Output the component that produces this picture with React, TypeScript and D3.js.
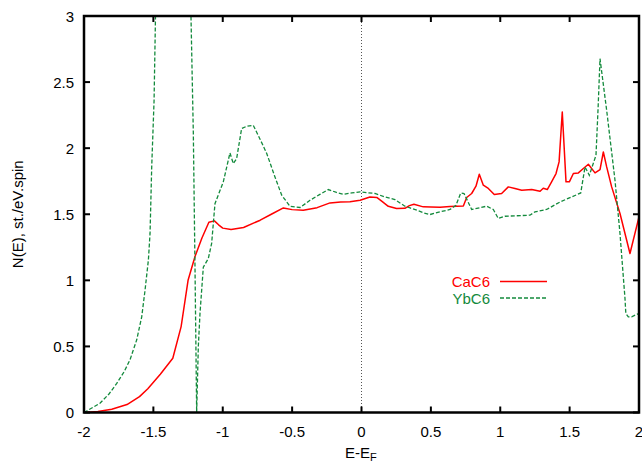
import React from "react";
import * as d3 from "d3";

const energyCa = [-2.0, -1.9, -1.8, -1.69, -1.6, -1.54, -1.45, -1.36, -1.3, -1.25, -1.2, -1.15, -1.1, -1.06, -1.03, -1.0, -0.94, -0.85, -0.73, -0.65, -0.563, -0.5, -0.42, -0.32, -0.227, -0.15, -0.083, -0.01, 0.061, 0.11, 0.15, 0.193, 0.253, 0.313, 0.345, 0.378, 0.445, 0.5, 0.566, 0.638, 0.734, 0.758, 0.794, 0.825, 0.849, 0.878, 0.914, 0.957, 1.01, 1.058, 1.106, 1.155, 1.227, 1.287, 1.31, 1.339, 1.37, 1.402, 1.424, 1.447, 1.474, 1.498, 1.527, 1.563, 1.599, 1.635, 1.683, 1.719, 1.743, 1.767, 1.803, 1.863, 1.935, 2.0];
const dosCa = [0.0, 0.008, 0.025, 0.06, 0.12, 0.18, 0.29, 0.41, 0.65, 1.0, 1.18, 1.32, 1.44, 1.45, 1.42, 1.395, 1.385, 1.4, 1.455, 1.5, 1.548, 1.535, 1.53, 1.55, 1.586, 1.593, 1.595, 1.606, 1.631, 1.627, 1.595, 1.56, 1.543, 1.545, 1.565, 1.576, 1.556, 1.555, 1.553, 1.558, 1.563, 1.627, 1.657, 1.712, 1.803, 1.72, 1.695, 1.649, 1.657, 1.707, 1.695, 1.682, 1.687, 1.674, 1.697, 1.687, 1.745, 1.808, 1.896, 2.274, 1.745, 1.745, 1.808, 1.813, 1.846, 1.878, 1.813, 1.838, 1.971, 1.858, 1.707, 1.506, 1.203, 1.48];

const energyYb = [-2.0, -1.95, -1.885, -1.82, -1.764, -1.71, -1.668, -1.62, -1.584, -1.56, -1.536, -1.524, -1.512, -1.495, -1.475, -1.35, -1.235, -1.229, -1.212, -1.2, -1.188, -1.176, -1.164, -1.14, -1.104, -1.08, -1.056, -0.996, -0.948, -0.924, -0.9, -0.864, -0.827, -0.78, -0.732, -0.683, -0.623, -0.575, -0.515, -0.443, -0.371, -0.3, -0.24, -0.18, -0.131, -0.07, -0.01, 0.097, 0.17, 0.241, 0.313, 0.35, 0.398, 0.45, 0.494, 0.566, 0.638, 0.681, 0.715, 0.739, 0.794, 0.902, 0.95, 0.986, 1.034, 1.214, 1.25, 1.334, 1.431, 1.58, 1.611, 1.642, 1.69, 1.705, 1.719, 1.767, 1.827, 1.863, 1.899, 1.905, 1.923, 1.947, 2.0];
const dosYb = [0.0, 0.03, 0.07, 0.14, 0.22, 0.31, 0.4, 0.55, 0.724, 0.926, 1.153, 1.355, 1.858, 2.36, 3.6, 5.5, 3.6, 3.0, 2.11, 1.1, 0.0, 0.5, 0.75, 1.1, 1.165, 1.28, 1.58, 1.745, 1.964, 1.883, 1.921, 2.148, 2.166, 2.173, 2.07, 1.96, 1.78, 1.644, 1.56, 1.551, 1.606, 1.65, 1.687, 1.665, 1.651, 1.662, 1.669, 1.657, 1.631, 1.611, 1.561, 1.548, 1.531, 1.51, 1.498, 1.518, 1.536, 1.568, 1.661, 1.657, 1.536, 1.561, 1.536, 1.468, 1.485, 1.493, 1.518, 1.536, 1.593, 1.661, 1.858, 1.795, 1.946, 2.3, 2.677, 2.286, 1.757, 1.354, 0.863, 0.75, 0.724, 0.724, 0.75];

const xTicks = [-2, -1.5, -1, -0.5, 0, 0.5, 1, 1.5, 2];
const yTicks = [0, 0.5, 1, 1.5, 2, 2.5, 3];
const seriesNames = ["CaC6", "YbC6"];

const W = 642;
const H = 462;
const left = 84;
const right = 639;
const top = 16;
const bottom = 412.5;
const RED = "#ff0000";
const GREEN = "#138a3c";
const FONT = "'Liberation Sans', Arial, Helvetica, sans-serif";

export default function App() {
  const x = d3.scaleLinear().domain([-2, 2]).range([left, right]);
  const y = d3.scaleLinear().domain([0, 3]).range([bottom, top]);
  const line = d3
    .line<[number, number]>()
    .x((d) => x(d[0]))
    .y((d) => y(d[1]));
  const caPts = energyCa.map((e, i) => [e, dosCa[i]] as [number, number]);
  const ybPts = energyYb.map((e, i) => [e, dosYb[i]] as [number, number]);
  const tickLen = 6;

  return (
    <svg
      width={W}
      height={H}
      style={{ position: "absolute", left: 0, top: 0, background: "#fff" }}
      fontFamily={FONT}
    >
      <defs>
        <clipPath id="plotclip">
          <rect x={left} y={top} width={right - left} height={bottom - top} />
        </clipPath>
      </defs>
      <rect width={W} height={H} fill="#fff" />
      {/* zero line */}
      <line
        x1={x(0)}
        x2={x(0)}
        y1={top}
        y2={bottom}
        stroke="#555"
        strokeWidth={1}
        strokeDasharray="1,2"
      />
      <g clipPath="url(#plotclip)">
        <path d={line(caPts) || ""} fill="none" stroke={RED} strokeWidth={1.5} strokeLinejoin="round" />
        <path
          d={line(ybPts) || ""}
          fill="none"
          stroke={GREEN}
          strokeWidth={1.3}
          strokeDasharray="4,2"
        />
      </g>
      {/* ticks */}
      {xTicks.map((t) => (
        <g key={"xt" + t}>
          <line x1={x(t)} x2={x(t)} y1={bottom} y2={bottom - tickLen} stroke="#000" strokeWidth={2} />
          <line x1={x(t)} x2={x(t)} y1={top} y2={top + tickLen} stroke="#000" strokeWidth={2} />
          <text x={x(t)} y={437} textAnchor="middle" fontSize={15} fill="#000">
            {String(t)}
          </text>
        </g>
      ))}
      {yTicks.map((t) => (
        <g key={"yt" + t}>
          <line x1={left} x2={left + tickLen} y1={y(t)} y2={y(t)} stroke="#000" strokeWidth={2} />
          <line x1={right} x2={right - tickLen} y1={y(t)} y2={y(t)} stroke="#000" strokeWidth={2} />
          <text x={74} y={y(t) + 5.5} textAnchor="end" fontSize={15} fill="#000">
            {String(t)}
          </text>
        </g>
      ))}
      {/* frame */}
      <rect
        x={left}
        y={top}
        width={right - left}
        height={bottom - top}
        fill="none"
        stroke="#000"
        strokeWidth={2.5}
      />
      {/* axis labels */}
      <text x={345} y={458} fontSize={15} fill="#000">
        E-E<tspan fontSize={11} dy={3}>F</tspan>
      </text>
      <text
        transform={`translate(23,${(top + bottom) / 2}) rotate(-90)`}
        textAnchor="middle"
        fontSize={15}
        fill="#000"
      >
        N(E), st./eV.spin
      </text>
      {/* legend */}
      <text x={490} y={287} textAnchor="end" fontSize={15} fill={RED}>
        {seriesNames[0]}
      </text>
      <line x1={500} x2={547} y1={281.5} y2={281.5} stroke={RED} strokeWidth={1.5} />
      <text x={490} y={303.5} textAnchor="end" fontSize={15} fill={GREEN}>
        {seriesNames[1]}
      </text>
      <line x1={500} x2={547} y1={298} y2={298} stroke={GREEN} strokeWidth={1.3} strokeDasharray="4,2" />
    </svg>
  );
}
